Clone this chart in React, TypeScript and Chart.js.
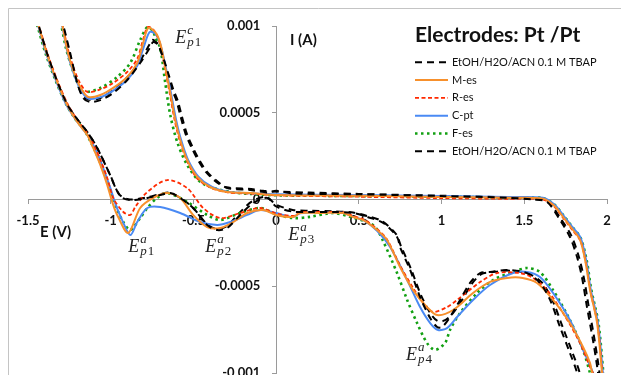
import React, { useEffect, useRef } from "react";
import { Chart, registerables } from "chart.js";

Chart.register(...registerables);

type Pt = [number, number]; // [E (V), I (mA)]

const MA = 1e-3;
const X_MIN = -1.5, X_MAX = 2, X_STEP = 0.5;
const Y_MIN = -0.001, Y_MAX = 0.001, Y_STEP = 0.0005;

const chartTitle = "Electrodes: Pt /Pt";
const xTitle = "E (V)";
const yTitle = "I (A)";

const seriesNames = [
  "EtOH/H2O/ACN 0.1 M TBAP",
  "M-es",
  "R-es",
  "C-pt",
  "F-es",
  "EtOH/H2O/ACN 0.1 M TBAP",
];

const blankA: Pt[] = [
  [-1.3, 1.05], [-1.287, 1.006], [-1.245, 0.844], [-1.202, 0.671], [-1.166, 0.585], [-1.124, 0.562],
  [-1.063, 0.573], [-0.985, 0.614], [-0.9, 0.689], [-0.822, 0.787], [-0.761, 0.879], [-0.743, 0.908],
  [-0.713, 0.89], [-0.68, 0.81], [-0.65, 0.72], [-0.62, 0.63], [-0.595, 0.57], [-0.57, 0.48],
  [-0.54, 0.38], [-0.502, 0.297], [-0.46, 0.22], [-0.417, 0.159], [-0.35, 0.1], [-0.296, 0.066],
  [-0.157, 0.055], [-0.05, 0.04], [0.0, 0.05], [0.1, 0.035], [0.5, 0.03], [1.0, 0.02], [1.4, 0.01],
  [1.55, 0.0], [1.637, -0.014], [1.716, -0.118], [1.776, -0.216], [1.819, -0.331], [1.849, -0.45],
  [1.879, -0.62], [1.915, -0.81], [1.946, -1.0], [1.956, -1.1],
  [1.83, -1.1], [1.819, -1.0], [1.776, -0.885], [1.716, -0.735], [1.656, -0.579], [1.595, -0.481],
  [1.517, -0.424], [1.396, -0.406], [1.293, -0.418], [1.233, -0.424], [1.172, -0.481], [1.112, -0.579],
  [1.051, -0.677], [1.003, -0.735], [0.973, -0.735], [0.931, -0.683], [0.87, -0.562], [0.81, -0.406],
  [0.749, -0.274], [0.731, -0.216], [0.647, -0.135], [0.55, -0.1], [0.465, -0.078], [0.344, -0.072],
  [0.205, -0.072], [0.1, -0.07], [0.0, -0.04], [-0.054, 0.009], [-0.139, -0.02], [-0.218, -0.089],
  [-0.296, -0.164], [-0.356, -0.176], [-0.417, -0.147], [-0.502, -0.049], [-0.58, 0.009], [-0.64, 0.037],
  [-0.701, 0.026], [-0.779, 0.009], [-0.882, -0.003], [-0.943, 0.02], [-1.003, 0.141], [-1.082, 0.297],
  [-1.142, 0.39], [-1.2, 0.46], [-1.263, 0.548], [-1.323, 0.68], [-1.384, 0.84], [-1.436, 1.006], [-1.456, 1.07],
];

const mEs: Pt[] = [
  [-1.31, 1.05], [-1.293, 1.006], [-1.263, 0.862], [-1.227, 0.746], [-1.184, 0.648], [-1.136, 0.591],
  [-1.063, 0.602], [-0.985, 0.643], [-0.9, 0.706], [-0.84, 0.787], [-0.804, 0.902], [-0.773, 0.988],
  [-0.731, 0.965], [-0.701, 0.902], [-0.671, 0.764], [-0.64, 0.614], [-0.61, 0.458], [-0.58, 0.343],
  [-0.538, 0.228], [-0.477, 0.13], [-0.399, 0.072], [-0.296, 0.043], [-0.157, 0.037], [0.006, 0.026],
  [0.5, 0.022], [1.0, 0.015], [1.4, 0.01], [1.613, 0.005], [1.68, -0.035], [1.734, -0.1], [1.79, -0.17],
  [1.837, -0.233], [1.87, -0.36], [1.897, -0.52], [1.94, -0.71], [1.97, -1.0], [1.98, -1.1],
  [1.93, -1.1], [1.91, -1.0], [1.897, -0.942], [1.855, -0.85], [1.776, -0.712], [1.674, -0.579],
  [1.577, -0.481], [1.49, -0.452], [1.396, -0.452], [1.293, -0.475], [1.19, -0.539], [1.07, -0.637],
  [0.973, -0.666], [0.912, -0.62], [0.828, -0.522], [0.749, -0.389], [0.67, -0.233], [0.61, -0.176],
  [0.53, -0.12], [0.465, -0.101], [0.405, -0.078], [0.266, -0.078], [0.145, -0.078], [0.103, -0.101],
  [0.0, -0.089], [-0.079, -0.061], [-0.175, -0.078], [-0.26, -0.13], [-0.338, -0.164], [-0.417, -0.159],
  [-0.502, -0.089], [-0.58, 0.009], [-0.659, 0.037], [-0.743, 0.009], [-0.822, -0.049], [-0.894, -0.193],
  [-0.961, -0.089], [-0.991, -0.014], [-1.021, 0.084], [-1.063, 0.199], [-1.106, 0.297], [-1.142, 0.372],
  [-1.202, 0.447], [-1.263, 0.545], [-1.323, 0.677], [-1.384, 0.833], [-1.438, 1.006], [-1.46, 1.07],
];

const rEs: Pt[] = [
  [-1.31, 1.05], [-1.29, 1.0], [-1.26, 0.87], [-1.225, 0.76], [-1.185, 0.67], [-1.14, 0.62],
  [-1.063, 0.635], [-0.985, 0.672], [-0.9, 0.735], [-0.84, 0.81], [-0.806, 0.915], [-0.775, 0.995],
  [-0.735, 0.97], [-0.703, 0.9], [-0.673, 0.76], [-0.643, 0.61], [-0.613, 0.455], [-0.583, 0.34],
  [-0.54, 0.225], [-0.48, 0.125], [-0.4, 0.07], [-0.3, 0.042], [-0.16, 0.034], [0.006, 0.024],
  [0.5, 0.016], [1.0, 0.008], [1.4, 0.004], [1.613, 0.0], [1.68, -0.04], [1.734, -0.105], [1.79, -0.175],
  [1.84, -0.24], [1.873, -0.37], [1.9, -0.53], [1.943, -0.72], [1.972, -1.0], [1.982, -1.1],
  [1.93, -1.1], [1.915, -1.0], [1.897, -0.965], [1.837, -0.827], [1.734, -0.654], [1.637, -0.522],
  [1.553, -0.452], [1.474, -0.424], [1.335, -0.424], [1.233, -0.476], [1.094, -0.579], [1.033, -0.62],
  [0.949, -0.648], [0.9, -0.61], [0.828, -0.51], [0.749, -0.38], [0.67, -0.23], [0.61, -0.17],
  [0.53, -0.115], [0.465, -0.095], [0.405, -0.075], [0.266, -0.072], [0.145, -0.075], [0.103, -0.095],
  [0.0, -0.08], [-0.097, -0.049], [-0.218, -0.078], [-0.338, -0.107], [-0.441, -0.049], [-0.538, 0.066],
  [-0.659, 0.112], [-0.779, 0.043], [-0.85, -0.04], [-0.882, -0.089], [-0.924, -0.072], [-0.985, 0.009],
  [-1.021, 0.124], [-1.063, 0.23], [-1.1, 0.31], [-1.14, 0.38], [-1.2, 0.455], [-1.26, 0.55],
  [-1.32, 0.68], [-1.38, 0.835], [-1.435, 1.006], [-1.455, 1.07],
];

const cPt: Pt[] = [
  [-1.31, 1.05], [-1.293, 1.0], [-1.263, 0.855], [-1.227, 0.735], [-1.184, 0.635], [-1.136, 0.582],
  [-1.063, 0.59], [-0.985, 0.628], [-0.9, 0.69], [-0.84, 0.77], [-0.8, 0.88], [-0.765, 0.965],
  [-0.73, 0.955], [-0.7, 0.895], [-0.668, 0.765], [-0.636, 0.615], [-0.605, 0.46], [-0.575, 0.345],
  [-0.533, 0.23], [-0.47, 0.132], [-0.39, 0.074], [-0.29, 0.045], [-0.15, 0.036], [0.006, 0.03],
  [0.5, 0.026], [1.0, 0.02], [1.4, 0.014], [1.613, 0.01], [1.68, -0.028], [1.734, -0.088], [1.79, -0.158],
  [1.84, -0.22], [1.875, -0.355], [1.902, -0.52], [1.945, -0.71], [1.975, -1.0], [1.985, -1.1],
  [1.93, -1.1], [1.915, -1.0], [1.855, -0.867], [1.776, -0.695], [1.674, -0.539], [1.595, -0.447],
  [1.517, -0.418], [1.432, -0.424], [1.293, -0.493], [1.19, -0.579], [1.094, -0.677], [1.033, -0.741],
  [0.979, -0.752], [0.931, -0.712], [0.87, -0.62], [0.792, -0.464], [0.689, -0.274], [0.61, -0.18],
  [0.53, -0.12], [0.465, -0.1], [0.4, -0.076], [0.27, -0.075], [0.145, -0.08], [0.1, -0.1],
  [0.0, -0.078], [-0.097, -0.061], [-0.175, -0.089], [-0.278, -0.13], [-0.356, -0.147], [-0.459, -0.13],
  [-0.58, -0.078], [-0.701, -0.043], [-0.779, -0.049], [-0.84, -0.13], [-0.882, -0.205], [-0.935, -0.11],
  [-0.97, -0.03], [-1.0, 0.06], [-1.045, 0.18], [-1.09, 0.285], [-1.14, 0.37], [-1.2, 0.445],
  [-1.265, 0.54], [-1.325, 0.672], [-1.386, 0.83], [-1.44, 1.006], [-1.462, 1.07],
];

const fEs: Pt[] = [
  [-1.32, 1.05], [-1.3, 1.006], [-1.27, 0.87], [-1.235, 0.76], [-1.2, 0.67], [-1.166, 0.62],
  [-1.063, 0.643], [-0.961, 0.706], [-0.882, 0.787], [-0.822, 0.919], [-0.779, 0.994], [-0.745, 0.97],
  [-0.731, 0.937], [-0.701, 0.873], [-0.671, 0.677], [-0.64, 0.487], [-0.598, 0.331], [-0.538, 0.199],
  [-0.459, 0.101], [-0.356, 0.06], [-0.25, 0.04], [-0.15, 0.032], [0.006, 0.024], [0.5, 0.02],
  [1.0, 0.016], [1.4, 0.012], [1.55, 0.012], [1.613, 0.008], [1.68, -0.028], [1.734, -0.088],
  [1.79, -0.158], [1.84, -0.22], [1.878, -0.355], [1.905, -0.52], [1.948, -0.71], [1.978, -1.0], [1.988, -1.1],
  [1.92, -1.1], [1.897, -1.0], [1.855, -0.867], [1.776, -0.695], [1.674, -0.522], [1.595, -0.418],
  [1.517, -0.395], [1.432, -0.418], [1.311, -0.464], [1.215, -0.539], [1.112, -0.654], [1.051, -0.752],
  [1.021, -0.827], [0.961, -0.867], [0.912, -0.827], [0.852, -0.712], [0.792, -0.579], [0.731, -0.424],
  [0.647, -0.24], [0.6, -0.16], [0.55, -0.13], [0.447, -0.1], [0.344, -0.078], [0.205, -0.1],
  [0.103, -0.107], [0.0, -0.085], [-0.097, -0.049], [-0.218, -0.078], [-0.338, -0.118], [-0.417, -0.089],
  [-0.538, -0.014], [-0.659, 0.037], [-0.719, 0.009], [-0.779, -0.049], [-0.822, -0.107], [-0.882, -0.176],
  [-0.924, -0.13], [-0.96, -0.06], [-0.995, 0.03], [-1.035, 0.14], [-1.08, 0.25], [-1.12, 0.33],
  [-1.16, 0.4], [-1.215, 0.465], [-1.275, 0.56], [-1.335, 0.69], [-1.395, 0.845], [-1.445, 1.006], [-1.467, 1.07],
];

const blankB: Pt[] = [
  [-1.305, 1.05], [-1.29, 1.006], [-1.25, 0.85], [-1.205, 0.68], [-1.17, 0.6], [-1.13, 0.575],
  [-1.063, 0.585], [-0.985, 0.63], [-0.9, 0.705], [-0.822, 0.8], [-0.765, 0.895], [-0.748, 0.92],
  [-0.718, 0.9], [-0.685, 0.82], [-0.655, 0.72], [-0.628, 0.63], [-0.603, 0.57], [-0.578, 0.48],
  [-0.548, 0.38], [-0.51, 0.297], [-0.468, 0.22], [-0.425, 0.159], [-0.36, 0.1], [-0.3, 0.07],
  [-0.15, 0.06], [-0.08, 0.05], [0.02, 0.045], [0.2, 0.04], [0.5, 0.032], [1.0, 0.022], [1.4, 0.012],
  [1.55, 0.004], [1.64, -0.01], [1.72, -0.11], [1.785, -0.21], [1.83, -0.33], [1.86, -0.45],
  [1.89, -0.62], [1.925, -0.81], [1.955, -1.0], [1.965, -1.1],
  [1.845, -1.1], [1.835, -1.0], [1.79, -0.88], [1.73, -0.73], [1.67, -0.58], [1.608, -0.48],
  [1.53, -0.43], [1.41, -0.41], [1.3, -0.42], [1.24, -0.43], [1.18, -0.49], [1.12, -0.585],
  [1.06, -0.665], [1.01, -0.7], [0.975, -0.7], [0.935, -0.66], [0.875, -0.55], [0.815, -0.4],
  [0.755, -0.27], [0.725, -0.2], [0.64, -0.125], [0.55, -0.095], [0.465, -0.075], [0.344, -0.068],
  [0.205, -0.065], [0.1, -0.06], [0.0, -0.03], [-0.06, 0.015], [-0.145, -0.01], [-0.225, -0.08],
  [-0.3, -0.155], [-0.36, -0.17], [-0.42, -0.14], [-0.505, -0.045], [-0.585, 0.012], [-0.645, 0.04],
  [-0.705, 0.03], [-0.785, 0.012], [-0.885, 0.0], [-0.948, 0.03], [-1.008, 0.15], [-1.086, 0.305],
  [-1.146, 0.395], [-1.205, 0.465], [-1.266, 0.552], [-1.326, 0.684], [-1.387, 0.845], [-1.438, 1.006], [-1.458, 1.07],
];

const seriesData: Pt[][] = [blankA, mEs, rEs, cPt, fEs, blankB];
const seriesColors = ["#000000", "#F7902C", "#FF2A00", "#4A8AF4", "#12A012", "#000000"];
const seriesDash: number[][] = [[7, 5], [], [4, 2.5], [], [2.5, 3.5], [7, 5]];
const seriesWidth = [2, 2, 1.8, 2, 2.6, 2];

// peak annotations: superscript, subscript, anchor (E, I in mA)
const annSup = ["c", "a", "a", "a", "a"];
const annSub = ["p1", "p1", "p2", "p3", "p4"];
const annE = [-0.61, -0.894, -0.429, 0.0725, 0.785];
const annI = [0.902, -0.3026, -0.3026, -0.233, -0.925];

const FONT = "Lato, 'Open Sans', sans-serif";
const Y_LABEL_GAP = "     ";

const decorPlugin = {
  id: "decor",
  beforeDraw(chart: any) {
    const ctx = chart.ctx;
    ctx.save();
    ctx.strokeStyle = "#c4c4c4";
    ctx.lineWidth = 1;
    ctx.beginPath();
    ctx.moveTo(0.5, chart.height);
    ctx.lineTo(0.5, 0.5);
    ctx.lineTo(chart.width, 0.5);
    ctx.stroke();
    ctx.restore();
  },
  afterDraw(chart: any) {
    const ctx = chart.ctx;
    const xs = chart.scales.x;
    const ys = chart.scales.y;
    ctx.save();
    ctx.fillStyle = "#111";
    ctx.textBaseline = "middle";
    ctx.textAlign = "left";
    // title
    ctx.font = `bold 21px ${FONT}`;
    ctx.fillText(chartTitle, 407, 27);
    // axis titles
    ctx.font = `bold 15px ${FONT}`;
    ctx.fillText(yTitle, 282, 32);
    ctx.fillText(xTitle, 32, 224);
    // legend
    ctx.font = `11px ${FONT}`;
    chart.data.datasets.forEach((ds: any, i: number) => {
      const y = 54.3 + 17.8 * i;
      ctx.save();
      ctx.strokeStyle = ds.borderColor;
      ctx.lineWidth = ds.borderWidth;
      ctx.setLineDash(ds.borderDash || []);
      ctx.beginPath();
      ctx.moveTo(407, y);
      ctx.lineTo(440, y);
      ctx.stroke();
      ctx.restore();
      ctx.fillStyle = "#111";
      ctx.fillText(ds.label, 444, y);
    });
    // peak annotations
    ctx.textBaseline = "alphabetic";
    ctx.fillStyle = "#222";
    annSup.forEach((sup, i) => {
      const px = xs.getPixelForValue(annE[i]);
      const py = ys.getPixelForValue(annI[i] * MA);
      ctx.font = `italic 18px 'Liberation Serif', serif`;
      ctx.fillText("E", px, py);
      const w = ctx.measureText("E").width;
      ctx.font = `italic 13px 'Liberation Serif', serif`;
      ctx.fillText(sup, px + w + 1, py - 9);
      const sub = annSub[i];
      ctx.fillText(sub[0], px + w + 1, py + 3);
      const pw = ctx.measureText(sub[0]).width;
      ctx.font = `13px 'Liberation Serif', serif`;
      ctx.fillText(sub.slice(1), px + w + 2 + pw, py + 3);
    });
    ctx.restore();
  },
};

export default function App() {
  const ref = useRef<HTMLCanvasElement | null>(null);
  useEffect(() => {
    if (!ref.current) return;
    const chart = new Chart(ref.current, {
      type: "scatter",
      data: {
        datasets: seriesData.map((pts, i) => ({
          label: seriesNames[i],
          data: pts.map(([e, c]) => ({ x: e, y: c * MA })),
          showLine: true,
          borderColor: seriesColors[i],
          backgroundColor: seriesColors[i],
          borderWidth: seriesWidth[i],
          borderDash: seriesDash[i],
          pointRadius: 0,
          pointHoverRadius: 0,
          tension: 0.3,
          fill: false,
        })),
      },
      options: {
        animation: false,
        responsive: false,
        layout: { padding: { left: 20, top: 18, right: 22, bottom: 10 } },
        plugins: { legend: { display: false }, tooltip: { enabled: false } },
        scales: {
          x: {
            type: "linear",
            min: X_MIN,
            max: X_MAX,
            position: { y: 0 } as any,
            ticks: {
              stepSize: X_STEP,
              padding: 4,
              color: "#111",
              font: { family: FONT, size: 13, weight: "bold", lineHeight: 2 },
              callback: (v: any) => String(Number(Number(v).toFixed(2))),
            },
            grid: { display: true, drawOnChartArea: false, drawTicks: true, tickLength: 4, color: "#9a9a9a" },
            border: { display: true, color: "#9a9a9a", width: 1 },
          },
          y: {
            type: "linear",
            min: Y_MIN,
            max: Y_MAX,
            position: { x: 0 } as any,
            ticks: {
              stepSize: Y_STEP,
              padding: 0,
              color: "#111",
              font: { family: FONT, size: 13, weight: "bold", lineHeight: 0.3 },
              callback: (v: any) => String(Number(Number(v).toFixed(4))) + Y_LABEL_GAP,
            },
            grid: { display: true, drawOnChartArea: false, drawTicks: true, tickLength: 4, color: "#9a9a9a" },
            border: { display: true, color: "#9a9a9a", width: 1 },
          },
        },
      },
      plugins: [decorPlugin],
    });
    return () => chart.destroy();
  }, []);
  return (
    <div style={{ width: 613, height: 367 }}>
      <canvas ref={ref} width={621} height={375} style={{ display: "block" }} />
    </div>
  );
}
